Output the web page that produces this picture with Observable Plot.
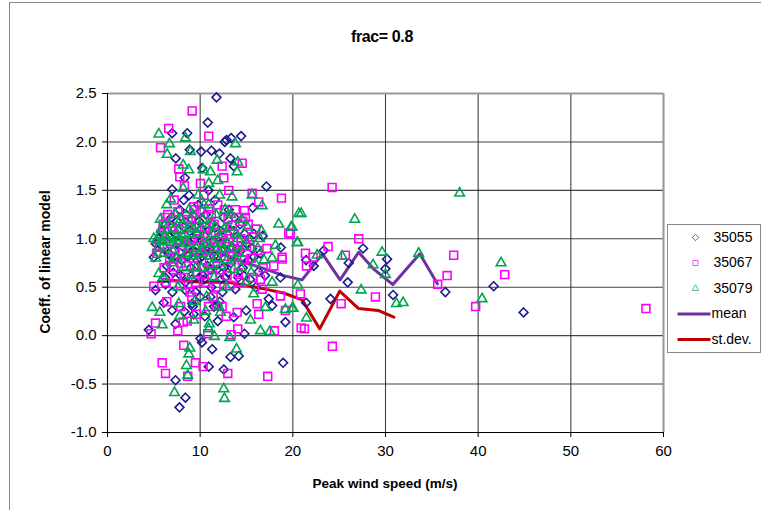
<!DOCTYPE html>
<html>
<head>
<meta charset="utf-8">
<script src="https://cdn.jsdelivr.net/npm/d3@7"></script>
<script src="https://cdn.jsdelivr.net/npm/@observablehq/plot@0.6"></script>
<style>
  html, body { margin: 0; padding: 0; background: #fff; }
  #wrap { position: relative; width: 761px; height: 510px; overflow: hidden; font-family: "Liberation Sans", Arial, sans-serif; }
  #frame { position: absolute; left: 9px; top: 2px; width: 800px; height: 600px; border-left: 1px solid #888; border-top: 1px solid #888; }
  #title { position: absolute; left: 0; width: 764px; top: 28px; text-align: center; font-weight: bold; font-size: 16px; letter-spacing: -0.4px; }
  #ylab { position: absolute; left: 45px; top: 262px; transform: translate(-50%, -50%) rotate(-90deg); white-space: nowrap; font-weight: bold; font-size: 14px; }
  #xlab { position: absolute; left: 385px; top: 483px; transform: translate(-50%, -50%); white-space: nowrap; font-weight: bold; font-size: 13.5px; }
  #legend { position: absolute; left: 667px; top: 224px; width: 92px; height: 127px; border: 1px solid #888; background: #fff; }
  #chart { position: absolute; left: 0; top: 0; }
</style>
</head>
<body>
<div id="wrap">
  <div id="frame"></div>
  <div id="chart"></div>
  <div id="title"></div>
  <div id="ylab"></div>
  <div id="xlab"></div>
  <div id="legend"></div>
</div>
<script>
const titleText = "frac= 0.8";
const xLabel = "Peak wind speed (m/s)";
const yLabel = "Coeff. of linear model";
const xTicks = [0, 10, 20, 30, 40, 50, 60];
const yTicks = [-1.0, -0.5, 0.0, 0.5, 1.0, 1.5, 2.0, 2.5];
const seriesNames = ["35055", "35067", "35079", "mean", "st.dev."];

// station 35055 (diamonds)
const s35055 = [
  [11.76,2.46],[10.82,2.20],[6.98,2.09],[8.6,2.09],[12.65,2.00],[12.84,2.02],[13.34,2.04],[14.42,2.06],
  [8.88,1.92],[10.1,1.90],[11.22,1.91],[12.08,1.88],[13.27,1.83],[7.37,1.83],[10.22,1.73],[13.62,1.75],
  [8.34,1.63],[17.15,1.54],[6.98,1.51],[8.23,1.40],[15.67,1.32],[16.75,1.03],[18.7,0.91],
  [5.0,0.81],[5.18,0.47],[6.07,0.34],[4.46,0.06],[7.34,0.12],[10.03,-0.03],[10.2,-0.07],[11.3,-0.14],
  [13.27,-0.22],[14.16,-0.21],[10.93,-0.32],[12.55,-0.35],[18.95,-0.28],[7.34,-0.46],[8.41,-0.64],[7.77,-0.74],
  [14.78,0.02],[13.62,0.19],[14.96,0.26],[17.77,0.31],[19.2,0.14],[15.78,0.81],[14.7,0.62],[17.4,0.38],
  [18.66,0.60],[7.5,0.81],[6.26,0.53],[11.83,0.31],[8.41,0.47],[6.98,0.26],[9.31,0.22],[11.11,0.40],
  [12.55,0.71],[9.14,0.33],
  [21.43,0.78],[22.26,0.72],[23.34,0.88],[26.03,0.75],[27.58,0.90],[25.92,0.55],[30.17,0.79],[29.99,0.69],
  [30.82,0.42],[21.43,0.34],[24.06,0.38],[36.46,0.45],[41.67,0.51],[44.9,0.24],
  [5.5,1.0],[6.0,0.92],[6.3,1.15],[6.6,0.85],[6.9,1.22],[7.1,0.65],[7.3,1.05],[7.6,0.95],[7.8,1.3],
  [8.0,0.78],[8.2,1.12],[8.4,0.55],[8.6,0.98],[8.8,1.45],[9.0,0.7],[9.1,1.2],[9.3,0.88],[9.5,0.45],
  [9.6,1.05],[9.8,1.35],[10.0,0.8],[10.1,1.1],[10.3,0.62],[10.4,0.95],[10.6,1.25],[10.8,0.72],[10.9,1.5],
  [11.0,0.9],[11.2,0.5],[11.3,1.15],[11.5,0.82],[11.6,1.4],[11.8,0.68],[12.0,1.02],[12.1,0.35],[12.3,0.88],
  [12.5,1.22],[12.7,0.6],[12.9,0.95],[13.1,1.3],[13.3,0.75],[13.6,1.08],[13.8,0.48],[14.0,0.9],[14.3,1.15],
  [14.6,0.7],[15.0,0.95],[15.4,0.58],[15.8,1.05],[16.3,0.66],[9.2,0.3],[10.5,0.2],[11.9,0.15],[8.3,0.25],
  [7.0,0.45],[6.2,0.6],
  [5.2,0.95],[5.8,1.08],[6.4,0.72],[6.7,1.02],[7.2,0.88],[7.5,1.18],[7.9,0.62],[8.1,0.92],[8.5,1.25],
  [8.7,0.82],[8.9,1.08],[9.1,0.58],[9.4,1.0],[9.7,0.78],[9.9,1.18],[10.2,0.98],[10.4,0.58],[10.7,0.88],
  [10.9,1.08],[11.1,0.68],[11.4,0.98],[11.7,1.12],[11.9,0.82],[12.2,0.58],[12.4,1.02],[12.6,0.9],[12.8,1.12],
  [13.0,0.65],[13.4,0.92],[13.7,1.22],[14.1,0.6],[14.4,0.88],[14.8,1.05],[15.2,0.78],[15.6,0.9],[16.0,0.5],
  [16.5,0.85],[17.0,0.62],[10.0,0.4],[11.5,0.3],[12.4,0.45],[9.9,0.6]
];

// station 35067 (squares)
const s35067 = [
  [9.14,2.32],[6.61,2.14],[10.93,2.06],[5.72,1.94],[14.53,1.78],[12.37,1.75],[7.69,1.72],[7.8,1.64],
  [12.55,1.63],[10.03,1.57],[15.61,1.47],[18.77,1.42],[16.32,1.38],[14.78,1.29],[14.89,1.22],[13.45,1.14],
  [6.26,1.22],[19.56,1.06],[18.85,0.81],[15.61,1.02],[13.09,1.50],[9.31,1.33],[10.93,1.31],
  [18.85,0.79],[17.94,0.72],[14.53,0.78],[16.69,0.48],[18.66,0.41],[5.0,0.51],[7.87,0.52],[5.18,0.13],
  [4.71,0.02],[7.58,0.05],[8.23,-0.10],[5.9,-0.28],[6.26,-0.39],[9.49,-0.28],[10.32,-0.32],[12.98,-0.39],
  [8.66,-0.42],[17.29,-0.42],[13.34,0.01],[14.06,0.07],[18.01,0.05],[16.32,0.22],[13.99,0.24],[16.15,0.33],
  [19.2,0.26],[12.37,0.30],[7.15,0.71],[8.17,0.14],[10.82,0.02],
  [24.24,1.53],[27.11,1.00],[23.8,0.92],[21.36,0.85],[21.47,0.72],[22.19,0.81],[25.67,0.83],[19.74,1.05],
  [20.82,0.43],[25.21,0.33],[28.91,0.40],[21.25,0.07],[37.36,0.83],[36.65,0.62],[35.63,0.53],[39.73,0.30],
  [24.27,-0.11],[20.9,0.08],[42.86,0.63],[58.1,0.28],
  [5.3,0.85],[5.8,1.05],[6.1,0.7],[6.5,1.25],[6.8,0.95],[7.2,1.4],[7.4,0.6],[7.7,1.1],[8.0,0.85],
  [8.3,1.55],[8.5,0.72],[8.7,1.2],[8.9,0.45],[9.2,0.98],[9.4,1.3],[9.7,0.65],[9.9,1.12],[10.2,0.85],
  [10.4,1.45],[10.6,0.55],[10.8,1.02],[11.0,0.75],[11.2,1.25],[11.4,0.4],[11.6,0.92],[11.9,1.35],[12.2,0.68],
  [12.4,1.05],[12.7,0.82],[13.0,1.2],[13.2,0.52],[13.5,0.9],[13.8,1.3],[14.1,0.65],[14.4,1.0],[14.8,0.78],
  [15.2,1.15],[15.7,0.6],[16.2,0.88],[16.8,0.7],[7.9,0.3],[9.6,0.22],[10.9,0.3],[12.8,0.2],[6.4,0.35],
  [8.6,0.15],
  [5.6,0.92],[6.0,1.15],[6.3,0.55],[6.7,0.8],[7.0,1.12],[7.3,0.9],[7.6,1.28],[7.9,0.75],[8.2,1.02],
  [8.4,0.6],[8.8,0.92],[9.0,1.18],[9.3,0.8],[9.5,0.55],[9.8,1.0],[10.0,1.28],[10.3,0.7],[10.5,1.12],
  [10.7,0.88],[11.1,0.98],[11.3,0.62],[11.5,1.15],[11.8,0.8],[12.0,1.0],[12.3,0.9],[12.6,1.3],[12.9,0.62],
  [13.1,1.0],[13.4,0.78],[13.7,1.05],[14.0,0.88],[14.3,0.55],[14.6,1.18],[15.0,0.92],[15.5,0.8],[16.0,1.1],
  [16.5,0.58],[17.2,0.9],[9.1,0.4],[11.7,0.5]
];

// station 35079 (triangles)
const s35079 = [
  [5.54,2.08],[6.69,1.98],[8.41,2.04],[6.44,1.87],[8.95,1.90],[13.81,1.98],[11.83,1.81],[14.06,1.79],
  [8.17,1.76],[8.77,1.71],[10.32,1.71],[11.11,1.69],[13.99,1.69],[11.9,1.60],[10.93,1.57],[8.17,1.52],
  [6.8,1.41],[13.45,1.43],[16.69,1.34],[15.61,1.45],[18.48,1.15],[19.82,1.12],[20.64,1.26],[18.12,0.93],
  [16.43,1.00],[20.46,0.96],
  [17.77,0.80],[17.77,0.55],[19.92,0.28],[19.2,0.27],[16.5,0.05],[17.51,0.04],[13.19,-0.02],[11.54,-0.01],
  [13.92,-0.14],[8.88,-0.13],[8.77,-0.19],[8.52,-0.31],[8.66,-0.41],[7.23,-0.59],[12.55,-0.55],[12.62,-0.65],
  [4.82,0.29],[5.65,0.24],[5.9,0.11],[5.54,0.64],[7.69,0.33],[15.43,0.16],[15.78,0.43],[17.04,0.29],
  [12.19,0.24],[10.93,0.07],[9.31,0.16],
  [20.9,1.26],[19.92,1.12],[20.53,0.96],[26.68,1.20],[38.0,1.47],[29.63,0.86],[25.32,0.82],[22.62,0.83],
  [33.58,0.85],[28.66,0.73],[29.99,0.63],[20.53,0.52],[27.37,0.47],[20.03,0.28],[31.18,0.33],[31.9,0.34],
  [21.47,0.18],[40.42,0.38],[42.47,0.75],
  [5.0,1.0],[5.3,0.98],[5.6,1.03],[5.9,0.97],[6.2,1.02],[6.5,0.99],[6.8,1.05],[7.1,0.96],[7.4,1.01],
  [7.7,0.98],[8.0,1.04],[8.3,0.95],[5.2,0.8],[5.7,1.2],[6.0,0.6],[6.4,1.35],[6.9,0.75],[7.3,1.25],
  [7.6,0.5],[8.1,1.15],[8.5,0.85],[8.8,1.3],[9.0,0.62],[9.3,1.1],[9.6,0.9],[9.8,1.45],[10.1,0.7],
  [10.3,1.2],[10.5,0.95],[10.7,0.4],[10.9,1.35],[11.1,0.82],[11.3,1.05],[11.5,0.6],[11.7,1.25],[11.9,0.9],
  [12.1,1.45],[12.3,0.72],[12.6,1.1],[12.8,0.5],[13.0,0.95],[13.3,1.25],[13.6,0.68],[13.9,1.05],[14.2,0.85],
  [14.5,1.2],[14.9,0.55],[15.3,0.98],[15.9,0.75],[16.6,1.08],[9.4,0.35],[10.6,0.25],[7.8,0.2],[12.0,0.3],
  [11.0,0.12],
  [5.4,0.9],[5.8,1.1],[6.1,0.85],[6.6,1.15],[7.0,0.88],[7.2,1.1],[7.5,0.8],[7.9,1.2],[8.2,0.7],
  [8.4,1.05],[8.7,0.95],[8.9,1.12],[9.1,0.82],[9.2,1.25],[9.5,0.7],[9.7,1.05],[9.9,0.85],[10.0,1.1],
  [10.2,0.88],[10.4,1.35],[10.8,0.95],[11.0,1.15],[11.2,0.72],[11.4,0.95],[11.6,1.12],[11.8,0.8],[12.2,1.0],
  [12.4,0.88],[12.7,1.3],[12.9,0.78],[13.1,1.12],[13.4,0.9],[13.8,0.8],[14.1,1.0],[14.4,0.7],[14.7,0.92],
  [15.1,1.12],[15.5,0.65],[16.2,0.9],[16.9,0.78]
];

const meanLine = [
  [5.0,0.98],[7.0,0.76],[9.0,0.9],[11.0,0.88],[13.0,0.82],[15.0,0.75],[17.0,0.69],[19.0,0.62],
  [21.0,0.576],[23.2,0.845],[25.1,0.576],[27.1,0.861],[28.7,0.69],[30.8,0.527],[33.7,0.845],[35.6,0.535]
];
const stdevLine = [
  [5.5,0.56],[7.0,0.57],[9.0,0.56],[11.0,0.55],[13.0,0.55],[15.0,0.52],[17.0,0.48],[19.0,0.44],
  [21.0,0.37],[22.9,0.07],[25.06,0.46],[27.1,0.28],[29.2,0.26],[30.9,0.19]
];

const colors = ["#1c1c8f", "#ff00ff", "#00a550", "#7030a0", "#c00000"];
const symbols = ["diamond2", "square2", "triangle2"];
const radii = [4.0, 5.0, 4.6];

const toObj = (arr) => arr.map(([x, y]) => ({x, y}));
const fmt1 = d => d.toFixed(1);

const plot = Plot.plot({
  width: 761,
  height: 510,
  marginLeft: 107,
  marginRight: 98,
  marginTop: 93,
  marginBottom: 78,
  style: {fontFamily: "'Liberation Sans', Arial, sans-serif", fontSize: "15px", background: "transparent", color: "#000"},
  x: {domain: [0, 60], ticks: xTicks},
  y: {domain: [-1, 2.5], ticks: yTicks},
  marks: [
    Plot.gridX(xTicks, {stroke: "#222", strokeOpacity: 0.85, strokeWidth: 1.1}),
    Plot.gridY(yTicks, {stroke: "#222", strokeOpacity: 0.85, strokeWidth: 1.1}),
    Plot.ruleY([2.5], {stroke: "#999", strokeWidth: 2}),
    Plot.ruleX([60], {stroke: "#999", strokeWidth: 2}),
    Plot.ruleX([0], {stroke: "#000", strokeWidth: 1}),
    Plot.ruleY([-1], {stroke: "#000", strokeWidth: 1}),
    Plot.axisX({ticks: xTicks, tickSize: 5, tickPadding: 8, label: null, fontSize: 15, tickFormat: d => String(d)}),
    Plot.axisY({ticks: yTicks, tickSize: 5, tickPadding: 6, label: null, fontSize: 15, tickFormat: fmt1}),
    Plot.line(toObj(meanLine), {x: "x", y: "y", stroke: colors[3], strokeWidth: 3}),
    Plot.line(toObj(stdevLine), {x: "x", y: "y", stroke: colors[4], strokeWidth: 3}),
    Plot.dot(toObj(s35055), {x: "x", y: "y", symbol: symbols[0], r: radii[0], stroke: colors[0], strokeWidth: 1.6, fill: "none"}),
    Plot.dot(toObj(s35067), {x: "x", y: "y", symbol: symbols[1], r: radii[1], stroke: colors[1], strokeWidth: 1.6, fill: "none"}),
    Plot.dot(toObj(s35079), {x: "x", y: "y", symbol: symbols[2], r: radii[2], stroke: colors[2], strokeWidth: 1.6, fill: "none"})
  ]
});
document.getElementById("chart").appendChild(plot);

document.getElementById("title").textContent = titleText;
document.getElementById("xlab").textContent = xLabel;
document.getElementById("ylab").textContent = yLabel;

// legend
const legendItems = seriesNames.map((name, i) => ({name, i, ly: 12 + i * 25.5}));
const leg = Plot.plot({
  width: 92, height: 127, margin: 0,
  style: {fontFamily: "'Liberation Sans', Arial, sans-serif", background: "transparent", color: "#000"},
  x: {domain: [0, 92], axis: null},
  y: {domain: [127, 0], axis: null},
  marks: [
    Plot.dot(legendItems.filter(d => d.i < 3), {x: () => 27, y: "ly", symbol: d => symbols[d.i], stroke: d => colors[d.i], r: d => radii[d.i] * 0.85, strokeWidth: 1, strokeOpacity: 0.7, fill: "none"}),
    Plot.link(legendItems.filter(d => d.i >= 3), {x1: () => 9, x2: () => 42, y1: "ly", y2: "ly", stroke: d => colors[d.i], strokeWidth: 3}),
    Plot.text(legendItems, {x: d => d.i < 3 ? 45 : 43, y: "ly", text: "name", textAnchor: "start", fontSize: 14, fill: "#000"})
  ]
});
document.getElementById("legend").appendChild(leg);
</script>
</body>
</html>
